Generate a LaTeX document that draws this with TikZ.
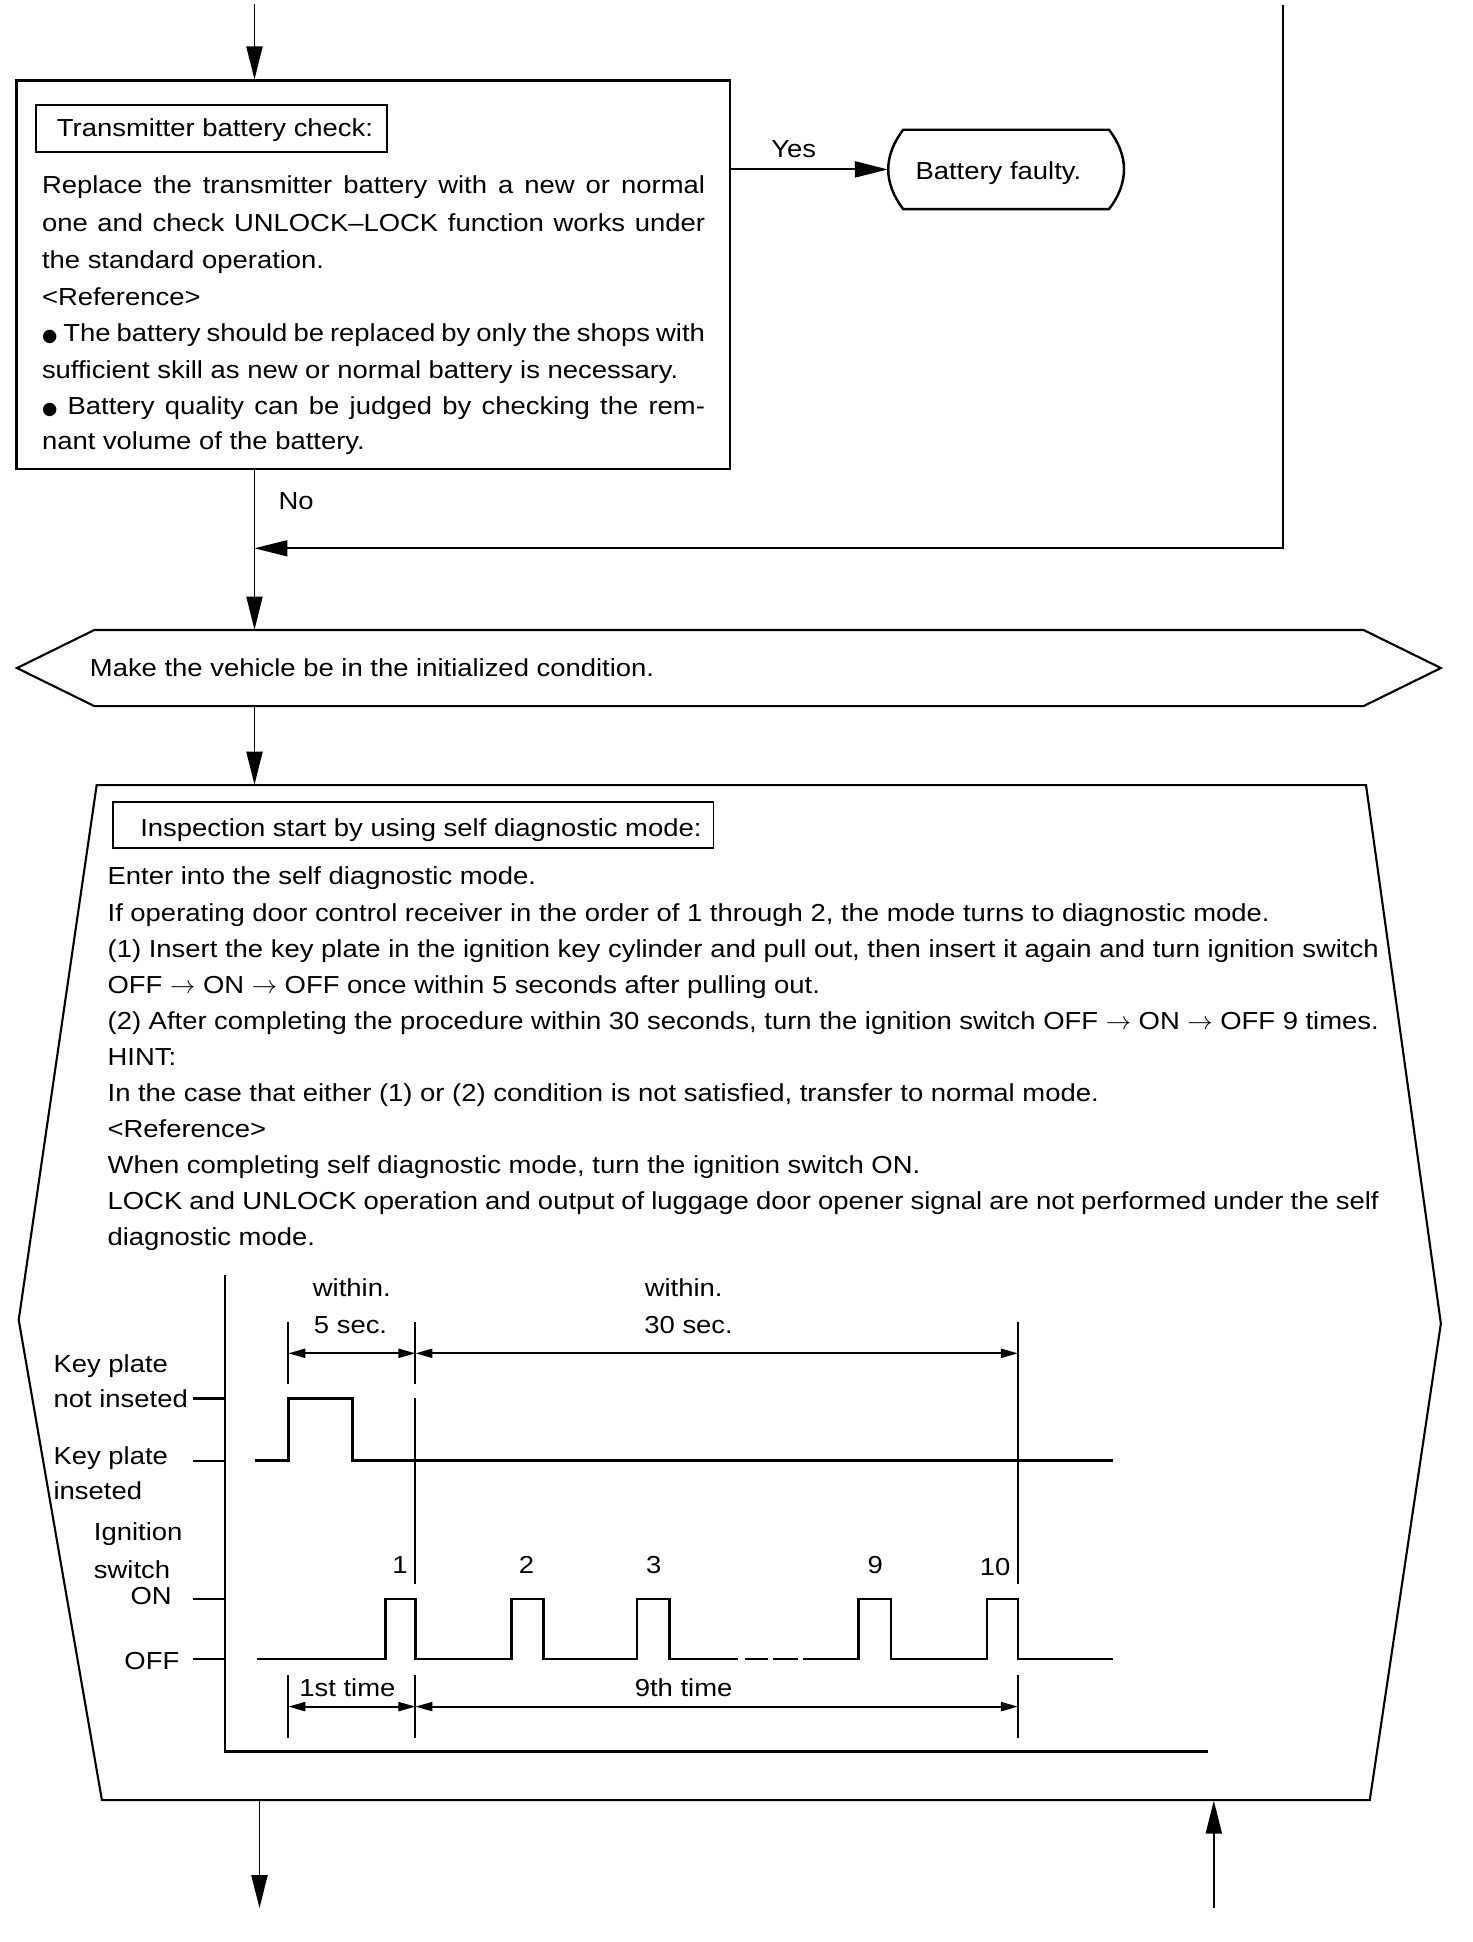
\documentclass[tikz,border=0pt]{standalone}
\usepackage{fontspec}
\setmainfont{Liberation Sans}[FakeStretch=1.115]
\newfontfamily\bulletfont{DejaVu Sans}
\usetikzlibrary{arrows.meta,fit}
\newcommand{\justline}[2]{\hbox to #1{#2}}
\newcommand{\bul}{{\bulletfont\fontsize{10}{12}\selectfont ●}}
\newcommand{\rar}{\ensuremath{\rightarrow}}
\begin{document}
\begin{tikzpicture}[x=0.02495cm,y=-0.02495cm,
  txt/.style={anchor=base west,inner sep=0pt,font=\fontsize{14}{18}\selectfont},
  ctxt/.style={anchor=base,inner sep=0pt,font=\fontsize{14}{18}\selectfont},
  rtxt/.style={anchor=base east,inner sep=0pt,font=\fontsize{14}{18}\selectfont},
  frame/.style={draw,line width=1.4pt,inner sep=0pt},
  titlebox/.style={draw,line width=1pt,inner sep=0pt},
  shapeln/.style={line width=1.2pt,line join=miter},
  conn/.style={line width=1.1pt},
  bigtip/.style={-{Triangle[length=0.66cm,width=0.32cm]}},
  sig/.style={line width=1.4pt},
  tickln/.style={line width=1.2pt},
  dimln/.style={line width=1.2pt,{Triangle[length=0.34cm,width=0.18cm]}-{Triangle[length=0.34cm,width=0.18cm]}}
]
\useasboundingbox (0,0) rectangle (1180,1556.7);

% ---------- top box ----------
\coordinate (top1) at (204,3);
\node[frame,fit={(13.4,64.7)(585,376)}] (box1) {};
\draw[conn,bigtip] (top1) -- (top1 |- box1.north);
\node[titlebox,fit={(28.9,84)(310,121.6)}] (t1box) {};
\node[txt] (t1) at (45.4,109.6) {Transmitter battery check:};
\node[txt] (b1) at (33.4,155.5) {\justline{13.26cm}{Replace the transmitter battery with a new or normal}};
\node[txt] (b2) at (33.4,185.3) {\justline{13.26cm}{one and check UNLOCK–LOCK function works under}};
\node[txt] (b3) at (33.4,215) {the standard operation.};
\node[txt] (b4) at (33.4,244.5) {<Reference>};
\node[txt] (b5) at (33.4,274) {\justline{13.26cm}{\bul\ The battery should be replaced by only the shops with}};
\node[txt] (b6) at (33.4,303) {sufficient skill as new or normal battery is necessary.};
\node[txt] (b7) at (33.4,332.5) {\justline{13.26cm}{\bul\ Battery quality can be judged by checking the rem-}};
\node[txt] (b8) at (33.4,360.7) {nant volume of the battery.};

% ---------- terminal ----------
\node[inner sep=0pt,fit={(712,104)(901,167.6)}] (term) {};
\draw[shapeln,line width=1.4pt] (724,104) -- (889,104) .. controls (905,125) and (905,146.6) .. (889,167.6)
  -- (724,167.6) .. controls (708,146.6) and (708,125) .. (724,104) -- cycle;
\node[txt] (tt) at (733.6,143.5) {Battery faulty.};
\draw[conn,bigtip] (term.west -| box1.east) -- (term.west);
\node[txt] (yes) at (618,126.5) {Yes};

% ---------- return line ----------
\coordinate (rtop) at (1028.5,4);
\coordinate (rcorner) at (1028.5,439.5);
\draw[conn,bigtip] (rtop) -- (rcorner) -- (rcorner -| top1);
\node[txt] (no) at (223,408.8) {No};

% ---------- hexagon ----------
\node[inner sep=0pt,fit={(13.6,505)(1155,566)}] (hex) {};
\draw[shapeln] (75.6,505) -- (1093,505) -- (1155,535.5) -- (1093,566) -- (75.6,566) -- (13.6,535.5) -- cycle;
\node[txt] (hext) at (71.8,542) {Make the vehicle be in the initialized condition.};
\draw[conn,bigtip] (box1.south -| top1) -- (hex.north -| top1);

% ---------- big box ----------
\node[inner sep=0pt,fit={(15,629.3)(1155,1443)}] (big) {};
\draw[shapeln] (77.5,629.3) -- (1095,629.3) -- (1155,1061) -- (1098,1443) -- (81.7,1443) -- (15,1058) -- cycle;
\draw[conn,bigtip] (hex.south -| top1) -- (big.north -| top1);
\node[titlebox,fit={(90.3,642.6)(572,680)}] (t2box) {};
\node[txt] (t2) at (112.2,670.7) {Inspection start by using self diagnostic mode:};
\node[txt] (c1) at (86,709.4) {Enter into the self diagnostic mode.};
\node[txt] (c2) at (86,738.3) {If operating door control receiver in the order of 1 through 2, the mode turns to diagnostic mode.};
\node[txt] (c3) at (86,767.2) {\justline{25.42cm}{(1) Insert the key plate in the ignition key cylinder and pull out, then insert it again and turn ignition switch}};
\node[txt] (c4) at (86,796.1) {OFF \rar\ ON \rar\ OFF once within 5 seconds after pulling out.};
\node[txt] (c5) at (86,825) {\justline{25.42cm}{(2) After completing the procedure within 30 seconds, turn the ignition switch OFF \rar\ ON \rar\ OFF 9 times.}};
\node[txt] (c6) at (86,853.9) {HINT:};
\node[txt] (c7) at (86,882.8) {In the case that either (1) or (2) condition is not satisfied, transfer to normal mode.};
\node[txt] (c8) at (86,911.7) {<Reference>};
\node[txt] (c9) at (86,940.6) {When completing self diagnostic mode, turn the ignition switch ON.};
\node[txt] (c10) at (86,969.5) {\justline{25.42cm}{LOCK and UNLOCK operation and output of luggage door opener signal are not performed under the self}};
\node[txt] (c11) at (86,998.4) {diagnostic mode.};

% ---------- timing chart ----------
\draw[sig] (180.4,1022) -- (180.4,1404) -- (968.5,1404);
% level ticks
\draw[tickln] (154.7,1121) -- (180.4,1121);
\draw[tickln] (154.7,1170.9) -- (180.4,1170.9);
\draw[tickln] (154.7,1281.8) -- (180.4,1281.8);
\draw[tickln] (154.7,1330) -- (180.4,1330);
% vertical markers
\draw[tickln] (231.1,1059.4) -- (231.1,1109.4);
\draw[tickln] (333,1059.4) -- (333,1109.4);
\draw[tickln] (333,1121) -- (333,1270);
\draw[tickln] (816,1060) -- (816,1270);
\draw[tickln] (231.1,1342.7) -- (231.1,1393.4);
\draw[tickln] (333,1342.7) -- (333,1393.4);
\draw[tickln] (816,1342.7) -- (816,1393.4);
% dimension arrows
\draw[dimln] (231.1,1084.8) -- (333,1084.8);
\draw[dimln] (333,1084.8) -- (816,1084.8);
\draw[dimln] (231.1,1368) -- (333,1368);
\draw[dimln] (333,1368) -- (816,1368);
% key plate signal
\draw[sig] (204.4,1170.9) -- (231.1,1170.9) -- (231.1,1121) -- (282.7,1121) -- (282.7,1170.9) -- (892.5,1170.9);
% ignition signal
\draw[sig] (205.8,1330) -- (309,1330) -- (309,1281.8) -- (333,1281.8) -- (333,1330)
  -- (410,1330) -- (410,1281.8) -- (435.5,1281.8) -- (435.5,1330)
  -- (510.4,1330) -- (510.4,1281.8) -- (536.5,1281.8) -- (536.5,1330) -- (591.8,1330);
\draw[sig] (597.2,1330) -- (615.9,1330);
\draw[sig] (619.9,1330) -- (639.9,1330);
\draw[sig] (643.9,1330) -- (688,1330) -- (688,1281.8) -- (714,1281.8) -- (714,1330)
  -- (791,1330) -- (791,1281.8) -- (816,1281.8) -- (816,1330) -- (892.5,1330);
% labels
\node[ctxt] (w1) at (282,1039) {within.};
\node[ctxt] (s5) at (281,1068.8) {5 sec.};
\node[ctxt] (w2) at (548,1039) {within.};
\node[ctxt] (s30) at (552,1068.8) {30 sec.};
\node[ctxt] (n1) at (320.6,1261) {1};
\node[ctxt] (n2) at (422,1261) {2};
\node[ctxt] (n3) at (524,1261) {3};
\node[ctxt] (n9) at (701.5,1261) {9};
\node[ctxt] (n10) at (797.6,1263) {10};
\node[ctxt] (first) at (278.5,1360) {1st time};
\node[ctxt] (ninth) at (548,1360) {9th time};
\node[txt] (kp1) at (42.7,1100.4) {Key plate};
\node[txt] (kp2) at (42.7,1128.6) {not inseted};
\node[txt] (kp3) at (42.7,1173.6) {Key plate};
\node[txt] (kp4) at (42.7,1202) {inseted};
\node[txt] (ig1) at (75,1235) {Ignition};
\node[txt] (ig2) at (75,1265) {switch};
\node[rtxt] (on) at (138,1286) {ON};
\node[rtxt] (off) at (144,1338) {OFF};

% ---------- exits ----------
\coordinate (out1) at (208,1529.6);
\coordinate (in1) at (973,1529.6);
\draw[conn,bigtip] (out1 |- big.south) -- (out1);
\draw[conn,bigtip] (in1) -- (in1 |- big.south);
\end{tikzpicture}
\end{document}
